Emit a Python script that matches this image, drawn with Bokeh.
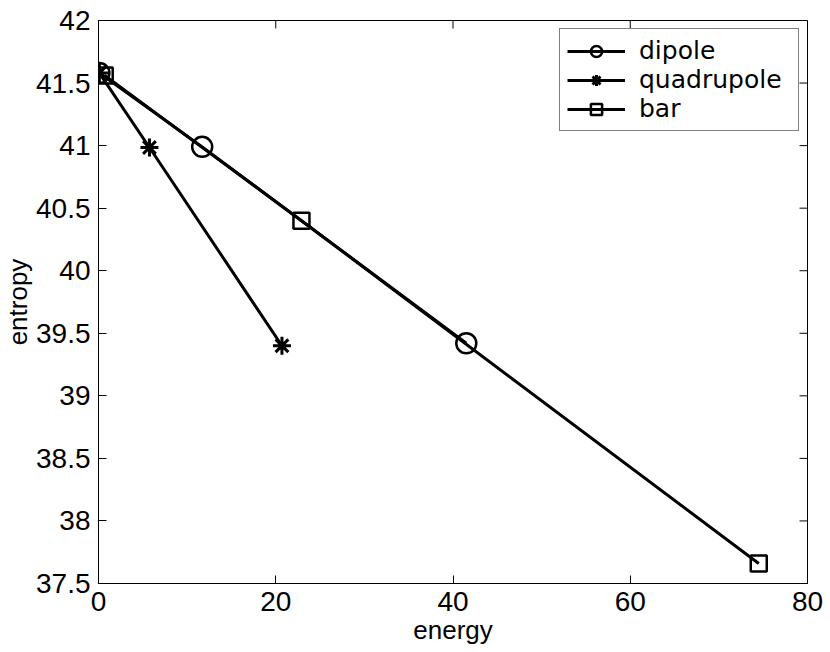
import math
from bokeh.plotting import figure
from bokeh.models import LinearAxis, FixedTicker, NumeralTickFormatter, Range1d, Legend, LegendItem
from bokeh.embed import file_html
from bokeh.resources import INLINE

# data
dipole_energy = [0.1, 11.7, 41.5]
dipole_entropy = [41.58, 40.99, 39.42]
quad_energy = [0.1, 5.75, 20.7]
quad_entropy = [41.58, 40.985, 39.40]
bar_energy = [0.7, 22.9, 74.5]
bar_entropy = [41.56, 40.40, 37.66]

x_ticks = [0, 20, 40, 60, 80]
y_ticks = [37.5, 38, 38.5, 39, 39.5, 40, 40.5, 41, 41.5, 42]
x_min, x_max = 0, 80
y_min, y_max = 37.5, 42
x_title = "energy"
y_title = "entropy"

FONT = "Liberation Sans"
TICK_FS = "28px"
LABEL_FS = "26px"

p = figure(width=830, height=652, output_backend="svg", toolbar_location=None,
           x_range=Range1d(x_min, x_max), y_range=Range1d(y_min, y_max),
           x_axis_location=None, y_axis_location=None,
           min_border_left=97, min_border_right=23, min_border_top=20, min_border_bottom=69)
p.xgrid.visible = False
p.ygrid.visible = False
p.outline_line_color = "black"
p.outline_line_width = 1
p.background_fill_color = "white"
p.border_fill_color = "white"

xt = FixedTicker(ticks=x_ticks)
yt = FixedTicker(ticks=y_ticks)
fmt = NumeralTickFormatter(format="0.[0]")

xaxis = LinearAxis(ticker=xt, formatter=fmt, axis_label=x_title)
yaxis = LinearAxis(ticker=yt, formatter=fmt, axis_label=y_title)
p.add_layout(xaxis, "below")
p.add_layout(yaxis, "left")

for ax in [xaxis, yaxis]:
    ax.major_tick_in = 8
    ax.major_tick_out = 0
    ax.minor_tick_line_color = None
    ax.axis_line_color = "black"
    ax.major_tick_line_color = "black"
    ax.major_label_text_font = FONT
    ax.major_label_text_font_size = TICK_FS
    ax.major_label_text_color = "black"
    ax.axis_label_text_font = FONT
    ax.axis_label_text_font_size = LABEL_FS
    ax.axis_label_text_font_style = "normal"
    ax.axis_label_text_color = "black"

xaxis.major_label_standoff = 8
xaxis.axis_label_standoff = 1
yaxis.major_label_standoff = 8
yaxis.axis_label_standoff = 0

# inward ticks on the top and right edges of the box
p.scatter(x_ticks, [y_max] * len(x_ticks), marker="dash", angle=math.pi / 2, size=16,
          line_color="black", line_width=1)
p.scatter([x_max] * len(y_ticks), y_ticks, marker="dash", size=16,
          line_color="black", line_width=1)

LW = 3
l1 = p.line(dipole_energy, dipole_entropy, line_color="black", line_width=LW)
m1 = p.scatter(dipole_energy, dipole_entropy, marker="circle", size=20,
               fill_color=None, line_color="black", line_width=2.5)
l2 = p.line(quad_energy, quad_entropy, line_color="black", line_width=LW)
m2 = p.scatter(quad_energy, quad_entropy, marker="asterisk", size=18,
               line_color="black", line_width=3)
l3 = p.line(bar_energy, bar_entropy, line_color="black", line_width=LW)
m3 = p.scatter(bar_energy, bar_entropy, marker="square", size=16,
               fill_color=None, line_color="black", line_width=2.5)

legend = Legend(items=[
    LegendItem(label="dipole", renderers=[l1, m1]),
    LegendItem(label="quadrupole", renderers=[l2, m2]),
    LegendItem(label="bar", renderers=[l3, m3]),
], location="top_right")
legend.margin = 8
legend.padding = 7
legend.spacing = 0
legend.glyph_width = 58
legend.glyph_height = 28
legend.label_height = 28
legend.label_width = 152
legend.label_standoff = 14
legend.label_text_font = "DejaVu Sans"
legend.label_text_font_size = "25px"
legend.label_text_color = "black"
legend.border_line_color = "black"
legend.border_line_width = 1
legend.background_fill_color = "white"
legend.background_fill_alpha = 1
p.add_layout(legend, "center")

open("out.html", "w").write(file_html(p, INLINE))
